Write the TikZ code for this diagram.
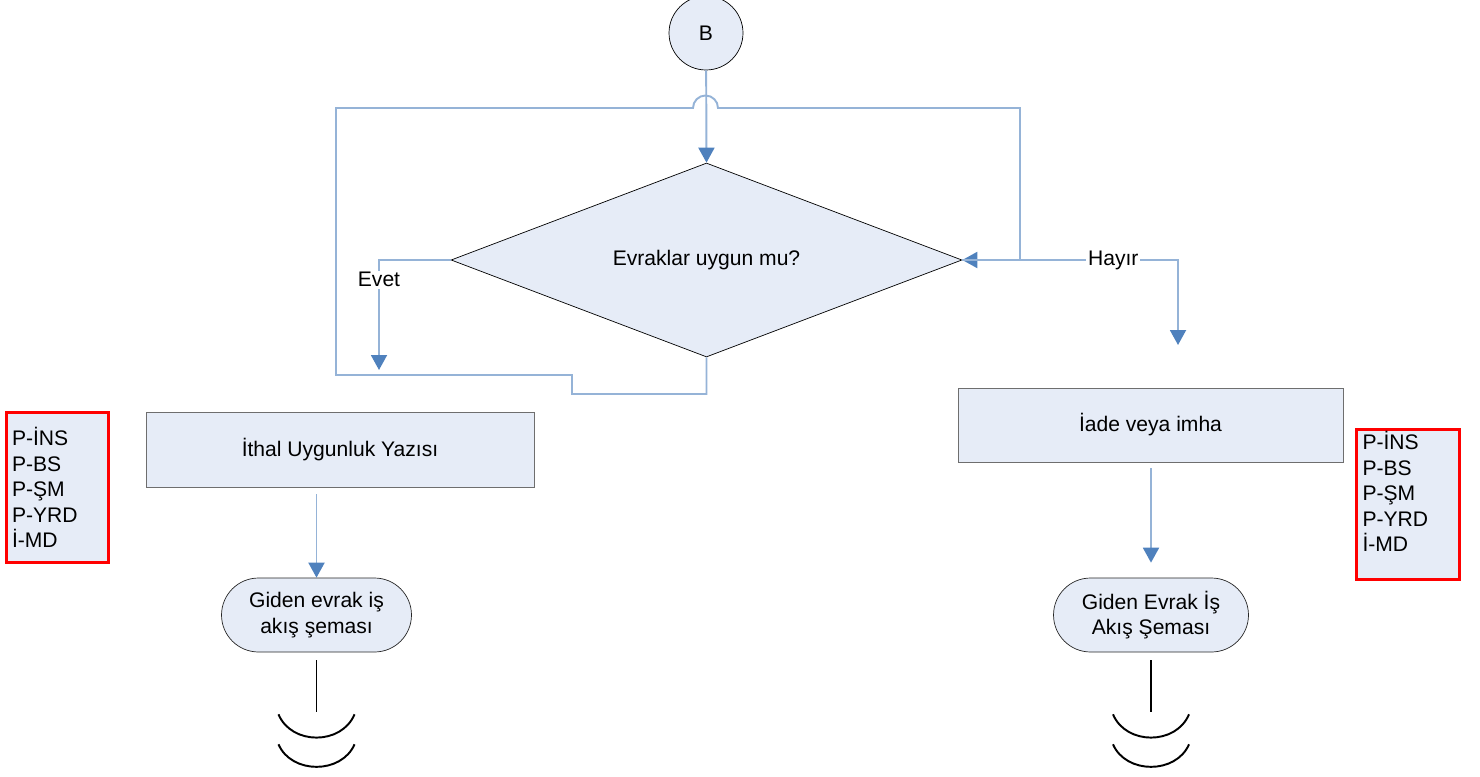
\documentclass[tikz,border=0pt]{standalone}
\usepackage{fontspec}
\setmainfont{Liberation Sans}
\usepackage{tikz}
\usetikzlibrary{positioning}
\usetikzlibrary{arrows.meta}
\usetikzlibrary{shapes.geometric,shapes.misc}
\usetikzlibrary{calc}

\definecolor{boxfill}{RGB}{230,236,247}
\definecolor{linkblue}{RGB}{149,179,215}
\definecolor{tipblue}{RGB}{79,129,189}
\definecolor{framegray}{RGB}{110,110,110}

\begin{document}
\begin{tikzpicture}[x=0.02cm,y=-0.02cm,font=\fontsize{12}{14.5}\selectfont,
	flow/.style={draw=linkblue,line width=1.1pt,-{Triangle[length=0.3cm,width=0.32cm,color=tipblue]}},
	conn node/.style={circle,draw=black,fill=boxfill,minimum size=1.48cm,inner sep=0},
	decision node/.style={diamond,aspect=2.63,draw=black,fill=boxfill,minimum width=10.22cm,minimum height=3.88cm,inner sep=0},
	process node/.style={rectangle,draw=framegray,fill=boxfill,minimum height=1.5cm,inner sep=0},
	end node/.style={rounded rectangle,draw=black!85,fill=boxfill,minimum width=3.8cm,minimum height=1.48cm,align=center,inner sep=0},
	role node/.style={rectangle,draw=red,line width=1.7pt,fill=boxfill,text width=1.82cm,inner xsep=0.12cm,inner ysep=0,minimum height=3.02cm,align=left},
	answer/.style={fill=white,inner sep=1pt},
	tail/.style={draw=black,line width=1.1pt}]

	\useasboundingbox (0,0) rectangle (1480,777);

	\node[conn node] (B) at (706,33) {B};
	\node[decision node] (dia) at (706.5,260) {Evraklar uygun mu?};
	\node[process node,minimum width=7.76cm] (ithal) at (340,449.5) {İthal Uygunluk Yazısı};
	\node[process node,minimum width=7.7cm,minimum height=1.48cm] (iade) at (1150.5,425) {İade veya imha};
	\node[end node] (gid1) at (316.5,615) {Giden evrak iş\\akış şeması};
	\node[end node,minimum width=3.9cm] (gid2) at (1151,615) {Giden Evrak İş\\Akış Şeması};
	\node[role node] (rol1) at (57.5,487.5) {P-İNS\\P-BS\\P-ŞM\\P-YRD\\İ-MD};
	\node[role node] (rol2) at (1408,504.5) {P-İNS\\P-BS\\P-ŞM\\P-YRD\\İ-MD\\~};

	\coordinate (evetend) at (379,370);
	\coordinate (hayirend) at (1178,345);

	% loop round the question
	\draw[flow] (dia.south) |- (572,394) |- (336,375) |- (693,108)
		arc[start angle=180,end angle=0,radius=0.25cm] -- (1020,108) |- (dia.east);

	\draw[flow] (B) -- (dia.north);
	\draw[flow] (dia.west) -| node[answer,pos=0.59] {Evet} (evetend);
	\draw[flow] (dia.east) -| node[answer,pos=0.35] {Hayır} (hayirend);

	\draw[flow] ($(ithal.south -| gid1.north)+(0,7)$) -- (gid1.north);
	\draw[flow,shorten >=0.3cm] ($(iade.south -| gid2.north)+(0,6)$) -- (gid2.north);

	% off-page marks
	\foreach \g in {gid1,gid2} {
		\begin{scope}[shift={(\g.south)}]
			\draw[tail] (0,8) -- (0,60);
			\draw[tail] (-38,62) .. controls (-25,93) and (25,93) .. (38,62);
			\draw[tail] (-38,92) .. controls (-25,122) and (25,122) .. (38,92);
		\end{scope}
	}
\end{tikzpicture}
\end{document}
